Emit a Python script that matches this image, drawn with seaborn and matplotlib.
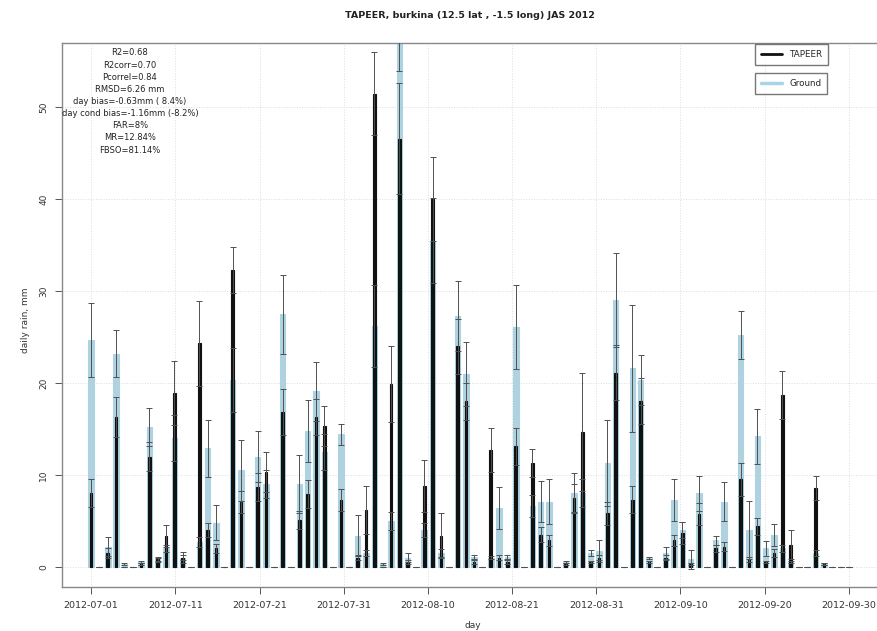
"""
TAPEER vs ground daily rain, Burkina, JAS 2012
"""

import numpy as np
import pandas as pd
import matplotlib
matplotlib.use("Agg")
import matplotlib.pyplot as plt
import seaborn as sns
from matplotlib.lines import Line2D

# ---- data ----
DATE_LABELS = ["2012-07-01", "2012-07-11", "2012-07-21", "2012-07-31", "2012-08-10",
               "2012-08-21", "2012-08-31", "2012-09-10", "2012-09-20", "2012-09-30"]

ground = [24.7, 0, 2.2, 23.2, 0.3, 0, 0.5, 15.2, 0.8, 2.0,
          14.0, 1.0, 0, 2.7, 12.9, 4.8, 0, 20.3, 10.5, 0,
          12.0, 9.0, 0, 27.5, 0, 9.0, 14.8, 19.1, 12.5, 0,
          14.4, 0, 3.4, 1.5, 26.2, 0.3, 5.0, 60.0, 1.0, 0,
          4.0, 35.5, 1.5, 0, 27.3, 21.0, 1.1, 0, 1.0, 6.4,
          1.1, 26.1, 0, 6.6, 7.1, 7.1, 0, 0.5, 8.0, 8.0,
          1.5, 1.7, 11.3, 29.0, 0, 21.6, 20.3, 1.0, 0, 1.5,
          7.3, 4.0, 0.8, 8.0, 0, 2.9, 7.1, 0, 25.2, 4.0,
          14.2, 2.0, 3.5, 2.0, 0.5, 0, 0, 1.5, 0.3, 0,
          0, 0]

tapeer = [8.0, 0, 1.5, 16.3, 0, 0, 0.3, 12.0, 0.8, 3.3,
          18.9, 1.0, 0, 24.3, 4.0, 2.0, 0, 32.3, 7.1, 0,
          8.7, 10.3, 0, 16.8, 0, 5.1, 7.9, 16.3, 15.3, 0,
          7.3, 0, 1.0, 6.2, 51.5, 0, 19.9, 46.6, 0.5, 0,
          8.8, 40.0, 3.4, 0, 24.0, 18.0, 0.5, 0, 12.7, 1.0,
          0.5, 13.1, 0, 11.3, 3.5, 2.9, 0, 0.3, 7.5, 14.7,
          0.5, 1.0, 5.8, 21.1, 0, 7.3, 18.0, 0.5, 0, 1.0,
          2.9, 3.7, 0.3, 5.7, 0, 2.0, 2.2, 0, 9.5, 0.8,
          4.4, 0.5, 1.5, 18.7, 2.4, 0, 0, 8.6, 0.3, 0,
          0, 0]

ground_err = [4.0, 0, 1.0, 2.6, 0.1, 0, 0.1, 2.1, 0.2, 0.4,
              2.5, 0.3, 0, 0.5, 3.1, 1.9, 0, 3.5, 3.3, 0,
              2.8, 1.5, 0, 4.3, 0, 3.2, 3.4, 3.2, 2.0, 0,
              1.1, 0, 2.2, 0.3, 4.5, 0.1, 1.0, 6.0, 0.5, 0,
              0.8, 4.6, 0.4, 0, 3.8, 3.5, 0.2, 0, 0.2, 2.3,
              0.2, 4.6, 0, 1.2, 2.2, 2.4, 0, 0.1, 2.2, 1.5,
              0.3, 1.2, 4.7, 5.1, 0, 6.9, 2.7, 0.1, 0, 0.7,
              2.3, 0.9, 1.0, 1.9, 0, 0.5, 2.1, 0, 2.6, 3.2,
              3.0, 0.8, 1.2, 0.4, 0.1, 0, 0, 0.3, 0.1, 0,
              0, 0]

tapeer_err = [1.5, 0, 0.5, 2.2, 0, 0, 0.1, 1.6, 0.3, 1.2,
              3.5, 0.6, 0, 4.6, 0.8, 0.5, 0, 2.5, 1.2, 0,
              1.5, 2.2, 0, 2.5, 0, 1.0, 1.5, 2.0, 2.2, 0,
              1.2, 0, 0.3, 2.6, 4.5, 0, 4.1, 6.0, 0.2, 0,
              2.8, 4.6, 2.4, 0, 3.0, 2.0, 0.2, 0, 2.4, 0.3,
              0.2, 2.0, 0, 1.5, 0.8, 0.6, 0, 0.1, 1.5, 6.4,
              0.1, 0.3, 1.2, 3.0, 0, 1.5, 2.5, 0.1, 0, 0.3,
              0.6, 1.2, 0.1, 1.2, 0, 0.4, 0.5, 0, 1.8, 0.3,
              0.9, 0.1, 0.4, 2.6, 1.6, 0, 0, 1.3, 0.1, 0,
              0, 0]

STATS = ["R2=0.68", "R2corr=0.70", "Pcorrel=0.84", "RMSD=6.26 mm",
         "day bias=-0.63mm ( 8.4%)", "day cond bias=-1.16mm (-8.2%)",
         "FAR=8%", "MR=12.84%", "FBSO=81.14%"]

GROUND_COL = "#a9d4e6"
TAPEER_COL = "#111111"
ERR_COL = "#505050"

df = pd.DataFrame({"day": np.arange(len(ground)), "ground": ground, "tapeer": tapeer,
                   "ground_err": ground_err, "tapeer_err": tapeer_err})

sns.set_style("white")
plt.rcParams["font.family"] = ["DejaVu Sans"]

fig = plt.figure(figsize=(8.78, 6.31), dpi=100)
ax = fig.add_axes([62 / 878, 1 - 587 / 631, (878 - 62) / 878, (587 - 43) / 631])

sns.barplot(data=df, x="day", y="ground", native_scale=True, width=0.65,
            color=GROUND_COL, edgecolor=GROUND_COL, linewidth=0.8,
            errorbar=None, ax=ax, zorder=2)
sns.barplot(data=df, x="day", y="tapeer", native_scale=True, width=0.32,
            color=TAPEER_COL, edgecolor=TAPEER_COL, linewidth=0.8,
            errorbar=None, ax=ax, zorder=3)
ax.errorbar(df["day"], df["ground"], yerr=df["ground_err"], fmt="none",
            ecolor=ERR_COL, elinewidth=0.7, capsize=2.2, capthick=0.7, zorder=4)
ax.errorbar(df["day"], df["tapeer"], yerr=df["tapeer_err"], fmt="none",
            ecolor=ERR_COL, elinewidth=0.7, capsize=2.2, capthick=0.7, zorder=4)

ax.set_xlim(-3.5, 94.5)
ax.set_ylim(-2.2, 57)
ax.set_xticks(np.linspace(0, 91, len(DATE_LABELS)))
ax.set_xticklabels(DATE_LABELS, fontsize=6.8, color="#333333")
ax.set_yticks(np.arange(0, 60, 10))
ax.set_yticklabels([str(v) for v in range(0, 60, 10)], rotation=90, va="center",
                   fontsize=6.5, color="#333333")
ax.tick_params(axis="both", direction="out", length=5, width=0.7, color="#555555",
               left=True, bottom=True, pad=5)
ax.grid(True, color="#dddddd", linestyle=":", linewidth=0.7, zorder=0)
ax.set_axisbelow(True)

for s in ["left", "bottom", "top"]:
    ax.spines[s].set_color("#888888")
    ax.spines[s].set_linewidth(1.0)
ax.spines["right"].set_visible(False)

ax.set_xlabel("day", fontsize=6.5, color="#333333")
ax.xaxis.set_label_coords((473 - 62) / 816, -0.063)
ax.set_ylabel("daily rain, mm", fontsize=6.5, color="#333333")
ax.yaxis.set_label_coords(-0.039, 0.49)
ax.set_title("TAPEER, burkina (12.5 lat , -1.5 long) JAS 2012", fontsize=6.8,
             fontweight="bold", color="#222222", pad=18)

# stats block, kept inside the frame
ax.text((130 - 62) / 816, 0.99, "\n".join(STATS), transform=ax.transAxes,
        ha="center", va="top", fontsize=6.0, linespacing=1.45, color="#222222")

leg1 = ax.legend(handles=[Line2D([], [], color=TAPEER_COL, lw=2)], labels=["TAPEER"],
                 loc="upper left", bbox_to_anchor=((755 - 62) / 816, 0.998),
                 fontsize=6.3, frameon=True, fancybox=False, edgecolor="#555555",
                 handlelength=2.4, borderpad=0.7, borderaxespad=0)
ax.add_artist(leg1)
ax.legend(handles=[Line2D([], [], color=GROUND_COL, lw=2.5)], labels=["Ground"],
          loc="upper left", bbox_to_anchor=((755 - 62) / 816, 0.945),
          fontsize=6.3, frameon=True, fancybox=False, edgecolor="#555555",
          handlelength=2.4, borderpad=0.7, borderaxespad=0)

fig.savefig("out.png", dpi=100)
